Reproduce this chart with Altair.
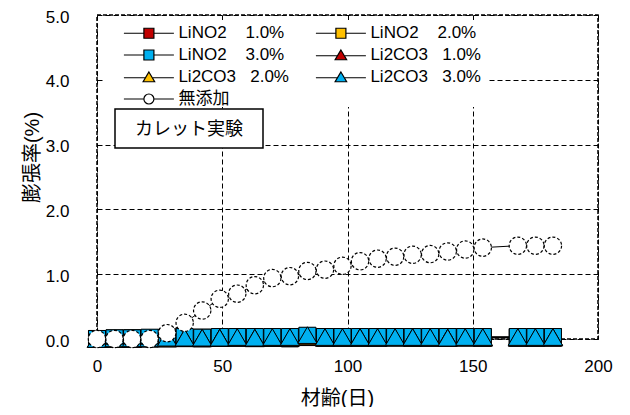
import altair as alt
import pandas as pd

FONT = "Liberation Sans, Noto Sans CJK JP, sans-serif"
NB = "\u00a0"

# ---- data ----
days = [0, 7, 14, 21, 28, 35, 42, 49, 56, 63, 70, 77, 84, 91, 98, 105, 112,
        119, 126, 133, 140, 147, 154, 168, 175, 182]

lino2_1 = [0.00, 0.00, 0.01, 0.01, 0.01, 0.02, 0.01, 0.02, 0.02, 0.02, 0.02, 0.01, 0.03,
           0.02, 0.02, 0.02, 0.02, 0.03, 0.02, 0.02, 0.02, 0.03, 0.02, 0.02, 0.02, 0.02]
lino2_2 = [0.00, 0.01, 0.01, 0.01, 0.02, 0.02, 0.02, 0.02, 0.03, 0.02, 0.02, 0.02, 0.04,
           0.03, 0.03, 0.02, 0.03, 0.03, 0.02, 0.03, 0.03, 0.03, 0.03, 0.03, 0.03, 0.03]
lino2_3 = [0.00, 0.01, 0.01, 0.02, 0.02, 0.03, 0.02, 0.03, 0.03, 0.03, 0.03, 0.03, 0.05,
           0.03, 0.03, 0.03, 0.03, 0.03, 0.03, 0.03, 0.03, 0.03, 0.03, 0.03, 0.03, 0.03]
li2co3_1 = [0.00, 0.00, 0.00, 0.01, 0.01, 0.01, 0.01, 0.02, 0.02, 0.01, 0.02, 0.02, 0.03,
            0.02, 0.02, 0.02, 0.02, 0.02, 0.02, 0.02, 0.02, 0.02, 0.02, 0.02, 0.02, 0.02]
li2co3_2 = [0.00, 0.00, 0.01, 0.01, 0.01, 0.02, 0.02, 0.02, 0.02, 0.02, 0.02, 0.02, 0.04,
            0.02, 0.02, 0.03, 0.02, 0.02, 0.03, 0.02, 0.02, 0.02, 0.02, 0.02, 0.02, 0.03]
li2co3_3 = [0.00, 0.01, 0.01, 0.01, 0.02, 0.02, 0.02, 0.02, 0.03, 0.02, 0.03, 0.03, 0.06,
            0.03, 0.03, 0.03, 0.03, 0.03, 0.03, 0.03, 0.02, 0.03, 0.03, 0.03, 0.03, 0.03]
mutenka = [0.00, 0.00, 0.00, 0.00, 0.09, 0.25, 0.44, 0.62, 0.70, 0.83, 0.94, 0.97, 1.05,
           1.07, 1.13, 1.20, 1.24, 1.27, 1.30, 1.31, 1.35, 1.38, 1.41, 1.44, 1.44, 1.44]

names = [
    "LiNO2" + NB * 4 + "1.0%",
    "LiNO2" + NB * 4 + "2.0%",
    "LiNO2" + NB * 4 + "3.0%",
    "Li2CO3" + NB * 3 + "1.0%",
    "Li2CO3" + NB * 3 + "2.0%",
    "Li2CO3" + NB * 3 + "3.0%",
    "無添加",
]
series_values = [lino2_1, lino2_2, lino2_3, li2co3_1, li2co3_2, li2co3_3, mutenka]
markers = ["sq", "sq", "sq", "tri", "tri", "tri", "circ"]
fills = ["#C00000", "#FFC000", "#00B0F0", "#C00000", "#FFC000", "#00B0F0", "white"]

x_ticks = [0, 50, 100, 150, 200]
y_ticks = [0, 1, 2, 3, 4, 5]

rows = []
for nm, vals, mk in zip(names, series_values, markers):
    for d, v in zip(days, vals):
        rows.append({"day": d, "value": v, "series": nm, "marker": mk})
df = pd.DataFrame(rows)

# legend symbols: line with marker in the middle
P_SQ = "M-5,0H-1M1,0H5M-1,-1H1V1H-1Z"
P_TRI = "M-5,0.15H-0.8M0.8,0.15H5M0,-1L1.15,0.95L-1.15,0.95Z"
P_CIR = "M-5,0H-1M1,0H5M-1,0A1,1,0,1,0,1,0A1,1,0,1,0,-1,0Z"
leg_paths = [P_SQ, P_SQ, P_SQ, P_TRI, P_TRI, P_TRI, P_CIR]

X = alt.X("day:Q", scale=alt.Scale(domain=[0, 200], nice=False),
          axis=alt.Axis(values=x_ticks, title="材齢(日)", format="d",
                        titleX=240, titleY=59, titleAlign="center", titleBaseline="middle"))
Y = alt.Y("value:Q", scale=alt.Scale(domain=[0, 5], nice=False),
          axis=alt.Axis(values=y_ticks, title="膨張率(%)", format=".1f", labelOffset=2,
                        titleX=-65, titleY=142, titleAlign="center", titleBaseline="middle",
                        titleAngle=270))

base = alt.Chart(df)

lines = base.mark_line(color="black", strokeWidth=1).encode(
    x=X, y=Y, detail="series:N", order="day:Q")

fill_scale = alt.Scale(domain=names[:6], range=fills[:6])

squares = base.transform_filter(alt.datum.marker == "sq").mark_point(
    shape="square", filled=True, stroke="black", strokeWidth=1, size=290, opacity=1
).encode(x=X, y=Y, fill=alt.Fill("series:N", scale=fill_scale, legend=None))

triangles = base.transform_filter(alt.datum.marker == "tri").mark_point(
    shape="triangle-up", filled=True, stroke="black", strokeWidth=1, size=370, opacity=1
).encode(x=X, y=Y, fill=alt.Fill("series:N", scale=fill_scale, legend=None))

circles = base.transform_filter(alt.datum.marker == "circ").mark_point(
    shape="circle", filled=True, fill="white", stroke="black", strokeWidth=1.2,
    strokeDash=[3, 2], size=300, opacity=1
).encode(x=X, y=Y)

one = pd.DataFrame({"k": [0]})
legend_bg = alt.Chart(one).mark_rect(fill="white").encode(
    x=alt.value(8), x2=alt.value(390), y=alt.value(5), y2=alt.value(92))

label_box = alt.Chart(one).mark_rect(fill="white", stroke="black", strokeWidth=1.5).encode(
    x=alt.value(18), x2=alt.value(166), y=alt.value(94), y2=alt.value(133))
label_text = alt.Chart(one).mark_text(
    text="カレット実験", font=FONT, fontSize=18, align="center", baseline="middle", color="black"
).encode(x=alt.value(92), y=alt.value(115))

leg = alt.Legend(
    orient="none", legendX=24, legendY=9.5, columns=2, direction="horizontal",
    columnPadding=24, rowPadding=4,
    symbolSize=100, symbolOffset=19.4, labelOffset=21, symbolStrokeColor="black",
    symbolStrokeWidth=1.2, symbolOpacity=1, labelFont=FONT, labelFontSize=17,
    labelColor="black", labelLimit=0, title=None, padding=0,
)
legend_layer = base.transform_filter("false").mark_point(
    filled=True, strokeWidth=1.2
).encode(
    x=X, y=Y,
    shape=alt.Shape("series:N", scale=alt.Scale(domain=names, range=leg_paths), legend=leg),
    fill=alt.Fill("series:N", scale=alt.Scale(domain=names, range=fills), legend=leg),
    stroke=alt.Stroke("series:N", scale=alt.Scale(domain=names, range=["black"] * 7), legend=leg),
)

chart = alt.layer(
    lines, squares, triangles, circles, legend_bg, label_box, label_text, legend_layer
).resolve_scale(fill="independent", shape="independent", stroke="independent").properties(
    width=501, height=324,
    autosize=alt.AutoSizeParams(type="none"),
    padding={"left": 89, "top": 7, "right": 24, "bottom": 68},
).configure_view(
    stroke="black", strokeWidth=1.5, strokeDash=[4, 2]
).configure_axis(
    grid=True, gridColor="black", gridDash=[5, 3], gridWidth=1, gridOpacity=1,
    domain=False, ticks=False, tickSize=0, labelFlush=False,
    labelFont=FONT, labelFontSize=17, labelColor="black",
    titleFont=FONT, titleFontSize=20, titleFontWeight="normal", titleColor="black",
).configure_axisX(
    labelPadding=19, labelAngle=0,
).configure_axisY(
    labelPadding=28,
)

chart.save("out.html", embed_options={"renderer": "svg", "actions": False})
